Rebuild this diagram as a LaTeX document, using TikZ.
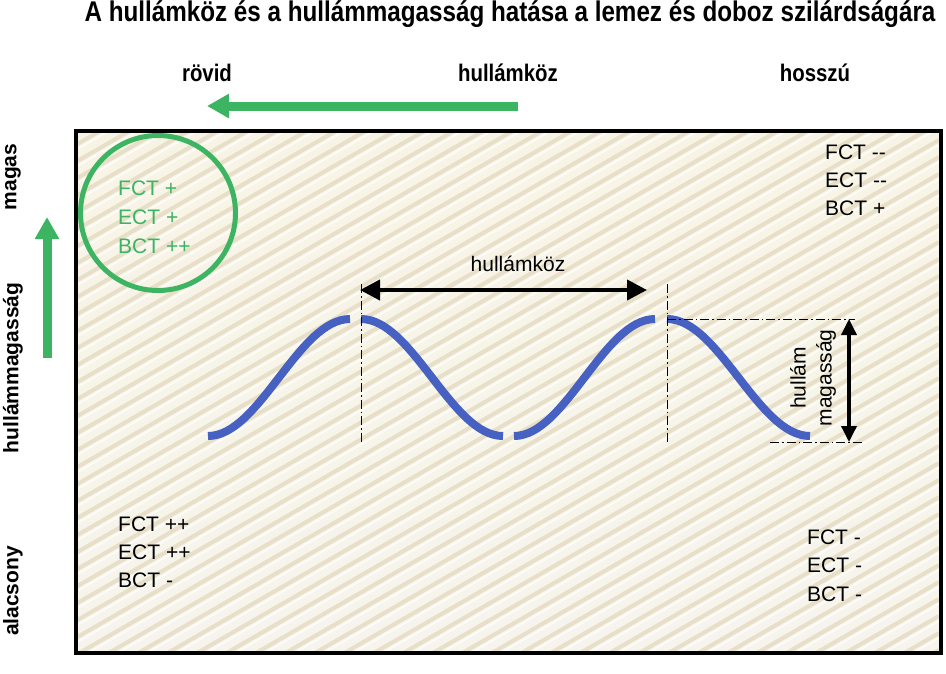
\documentclass[tikz,border=0pt]{standalone}
\usepackage{fontspec}
\setmainfont{Liberation Sans}
\newfontfamily\condbold{Liberation Sans}[FakeStretch=0.85]
\usetikzlibrary{arrows.meta}
\definecolor{grn}{RGB}{60,180,98}
\definecolor{wave}{RGB}{70,97,194}
\definecolor{paper}{RGB}{248,244,229}
\definecolor{paperlow}{RGB}{246,244,236}
\definecolor{ridge}{RGB}{231,223,199}
\tikzset{
  boldlbl/.style={font=\condbold\bfseries\fontsize{24}{26}\selectfont, inner sep=0pt},
  sidelbl/.style={font=\bfseries\fontsize{21}{24}\selectfont, inner sep=0pt, rotate=90},
  titlelbl/.style={font=\condbold\bfseries\fontsize{28.5}{32}\selectfont, inner sep=0pt},
  body/.style={font=\fontsize{21}{24}\selectfont, inner sep=0pt, anchor=west},
  wavestroke/.style={wave, line width=8pt},
  dashdot/.style={black, line width=0.8pt, dash pattern=on 9pt off 3pt on 1.5pt off 3pt},
  dimarrow/.style={black, line width=4pt, {Triangle[width=20pt,length=20pt]}-{Triangle[width=20pt,length=20pt]}},
  vdimarrow/.style={black, line width=3.5pt, {Triangle[width=15pt,length=16pt]}-{Triangle[width=15pt,length=16pt]}},
  greenarrow/.style={grn, line width=9pt, -{Triangle[width=23pt,length=22pt]}},
  ridgeline/.style={ridge, line width=4pt},
  ridgehi/.style={white, line width=2pt, opacity=0.7}
}
\begin{document}
\begin{tikzpicture}[x=1pt,y=-1pt]
\useasboundingbox (0,0) rectangle (946,673);
% board background
\path[top color=paper, bottom color=paperlow] (74,129) rectangle (939,651);
\begin{scope}
  \clip (74,129) rectangle (939,651);
  \foreach \c in {0,17,...,1040} {
    \draw[ridgeline] (74,129+\c) -- ++(865,-499);
    \draw[ridgehi] (74,129+\c+5) -- ++(865,-499);
  }
\end{scope}
\node[draw=black, line width=4pt, minimum width=865pt, minimum height=522pt, anchor=north west, inner sep=0pt] (board) at (74,129) {};

% title
\node[titlelbl] (title) at (510,14) {A hullámköz és a hullámmagasság hatása a lemez és doboz szilárdságára};

% top labels
\node[boldlbl] (rovid) at (207,73) {rövid};
\node[boldlbl] (hkoz) at (508,73) {hullámköz};
\node[boldlbl] (hosszu) at (815,73) {hosszú};
\coordinate (ga1) at (518,106);
\coordinate (ga2) at (207,106);
\draw[greenarrow] (ga1) -- (ga2);

% side labels
\node[sidelbl] (magas) at (13,177) {magas};
\node[sidelbl] (hmag) at (13,368) {hullámmagasság};
\node[sidelbl] (alacsony) at (13,591) {alacsony};
\coordinate (gv1) at (47,358);
\coordinate (gv2) at (47,217);
\draw[greenarrow] (gv1) -- (gv2);

% circle and green texts
\node[draw=grn, line width=5pt, circle, minimum size=155pt, inner sep=0pt] (circ) at (158,213) {};
\node[body, text=grn] (f1) at (118,188) {FCT +};
\node[body, text=grn] (e1) at (118,217) {ECT +};
\node[body, text=grn] (b1) at (118,246) {BCT ++};

% other corners
\node[body] (f2) at (825,152) {FCT -{}-};
\node[body] (e2) at (825,180) {ECT -{}-};
\node[body] (b2) at (825,208) {BCT +};
\node[body] (f3) at (118,524) {FCT ++};
\node[body] (e3) at (118,552) {ECT ++};
\node[body] (b3) at (118,580) {BCT -};
\node[body] (f4) at (807,537) {FCT -};
\node[body] (e4) at (807,565) {ECT -};
\node[body] (b4) at (807,594) {BCT -};

% wave
\draw[wavestroke] (208,436) cos (279,377.5) sin (350,319);
\draw[wavestroke] (361,319) cos (432,377.5) sin (503,436);
\draw[wavestroke] (514,436) cos (584.5,377.5) sin (655,319);
\draw[wavestroke] (667,319) cos (738.5,377.5) sin (810,436);

% dimension lines
\coordinate (v1t) at (361,284);
\coordinate (v1b) at (361,443);
\coordinate (v2t) at (667,284);
\coordinate (v2b) at (667,443);
\draw[dashdot] (v1t) -- (v1b);
\draw[dashdot] (v2t) -- (v2b);
\coordinate (h1l) at (667,319);
\coordinate (h1r) at (855,319);
\coordinate (h2l) at (770,442);
\coordinate (h2r) at (864,442);
\draw[dashdot] (h1l) -- (h1r);
\draw[dashdot] (h2l) -- (h2r);
\coordinate (da1) at (360,290);
\coordinate (da2) at (647,290);
\draw[dimarrow] (da1) -- (da2);
\node[font=\fontsize{21}{24}\selectfont, inner sep=0pt] (hkozmid) at (518,264) {hullámköz};
\coordinate (dv1) at (849,319);
\coordinate (dv2) at (849,442);
\draw[vdimarrow] (dv1) -- (dv2);
\node[font=\fontsize{21}{24}\selectfont, inner sep=0pt, rotate=90, align=center] (hmagr) at (813,378) {hullám\\[2pt]magasság};
\end{tikzpicture}
\end{document}
